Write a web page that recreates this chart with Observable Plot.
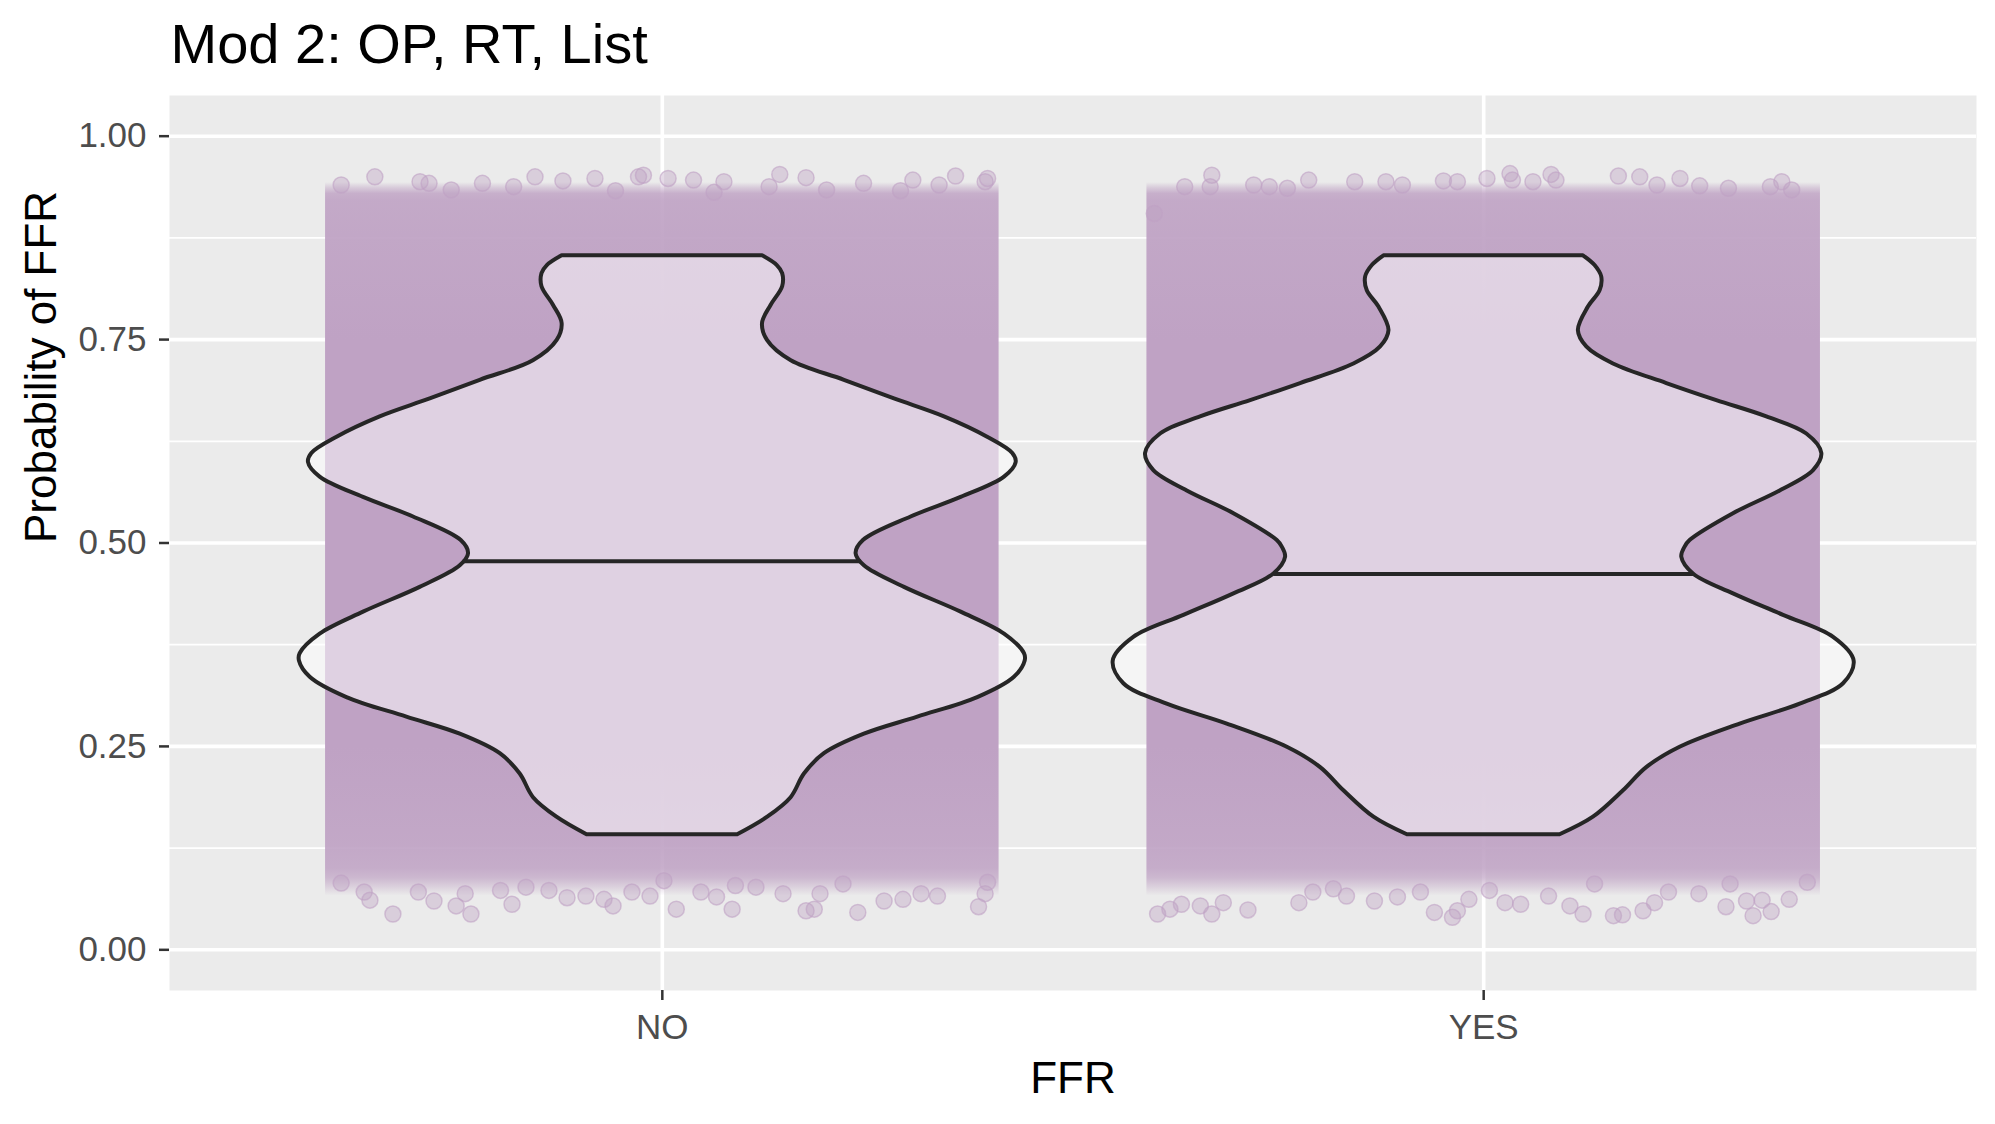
<!DOCTYPE html>
<html>
<head>
<meta charset="utf-8">
<script src="https://cdn.jsdelivr.net/npm/d3@7"></script>
<script src="https://cdn.jsdelivr.net/npm/@observablehq/plot@0.6"></script>
<style>
  body { margin: 0; background: #ffffff; }
  #chart svg { display: block; }
</style>
</head>
<body>
<div id="chart"></div>
<script>
// ---------- data ----------
const title = "Mod 2: OP, RT, List";
const xLabel = "FFR";
const yLabel = "Probability of FFR";
const categories = ["NO", "YES"];
const yTicks = [0, 0.25, 0.5, 0.75, 1];
const yMinor = [0.125, 0.375, 0.625, 0.875];

// medians (horizontal line inside each violin)
const medians = [0.4776, 0.462];

// violin outline: y value and half-width (x units), top to bottom
const violinY_NO = [0.853, 0.841, 0.831, 0.815, 0.792, 0.770, 0.749, 0.724, 0.700, 0.677, 0.655, 0.630, 0.610, 0.599, 0.581, 0.556, 0.532, 0.503, 0.487, 0.472, 0.4455, 0.415, 0.388, 0.364, 0.355, 0.335, 0.310, 0.286, 0.265, 0.241, 0.216, 0.187, 0.163, 0.1414];
const violinHalf_NO = [0.122, 0.140, 0.1465, 0.1465, 0.1324, 0.122, 0.128, 0.157, 0.2217, 0.2826, 0.3435, 0.396, 0.4267, 0.4308, 0.4166, 0.3638, 0.3029, 0.2448, 0.2359, 0.246, 0.2948, 0.3638, 0.4166, 0.4409, 0.4418, 0.4287, 0.384, 0.311, 0.246, 0.1973, 0.173, 0.1568, 0.1283, 0.0917];
const violinY_YES = [0.853, 0.841, 0.827, 0.810, 0.790, 0.761, 0.741, 0.720, 0.696, 0.675, 0.655, 0.634, 0.610, 0.589, 0.564, 0.536, 0.503, 0.495, 0.4825, 0.462, 0.4375, 0.411, 0.384, 0.355, 0.327, 0.302, 0.2775, 0.249, 0.224, 0.1955, 0.163, 0.1414];
const violinHalf_YES = [0.1214, 0.1356, 0.1437, 0.1417, 0.1275, 0.1153, 0.1255, 0.158, 0.2229, 0.2838, 0.3447, 0.3934, 0.4117, 0.4016, 0.3609, 0.3041, 0.2513, 0.2452, 0.2412, 0.2554, 0.3041, 0.365, 0.426, 0.451, 0.4381, 0.3853, 0.3122, 0.2391, 0.1985, 0.1702, 0.1336, 0.0929];

// jittered point cloud: horizontal spread and relative point density by value (top to bottom)
const jitterHalfWidth = 0.41;
const cloudDensityY = [0.943, 0.936, 0.929, 0.92, 0.88, 0.80, 0.75, 0.25, 0.20, 0.13, 0.10, 0.088, 0.078, 0.066];
const cloudDensity  = [0.0, 0.45, 0.82, 0.9, 0.93, 0.97, 1.0, 1.0, 0.97, 0.92, 0.86, 0.7, 0.4, 0.0];

// stray points visible around the edges of each cloud (offset from category, value)
const strayNO_dx = [-0.391,-0.363,-0.356,-0.328,-0.297,-0.278,-0.251,-0.233,-0.240,-0.197,-0.183,-0.166,-0.138,-0.116,-0.093,-0.071,-0.060,-0.037,-0.015,0.002,0.017,0.047,0.066,0.085,0.089,0.114,0.147,0.175,0.185,0.192,0.220,0.238,0.270,0.293,0.315,0.335,0.385,0.393,0.396,
  -0.391,-0.350,-0.295,-0.284,-0.257,-0.219,-0.181,-0.155,-0.121,-0.082,-0.057,-0.029,-0.023,0.007,0.038,0.063,0.075,0.130,0.143,0.175,0.200,0.245,0.290,0.305,0.337,0.357,0.393,0.396];
const strayNO_y = [0.082,0.071,0.061,0.044,0.071,0.060,0.054,0.044,0.069,0.073,0.056,0.077,0.073,0.064,0.066,0.062,0.054,0.071,0.066,0.085,0.050,0.071,0.065,0.050,0.079,0.077,0.069,0.048,0.050,0.069,0.081,0.046,0.060,0.062,0.069,0.066,0.053,0.069,0.083,
  0.940,0.950,0.944,0.942,0.934,0.942,0.938,0.950,0.945,0.948,0.933,0.950,0.952,0.948,0.946,0.931,0.944,0.938,0.953,0.949,0.934,0.942,0.933,0.946,0.940,0.951,0.944,0.948];
const strayYES_dx = [-0.397,-0.382,-0.368,-0.345,-0.331,-0.317,-0.287,-0.225,-0.208,-0.183,-0.167,-0.133,-0.105,-0.077,-0.060,-0.038,-0.032,-0.018,0.007,0.026,0.045,0.079,0.105,0.121,0.135,0.158,0.169,0.194,0.208,0.225,0.262,0.295,0.300,0.320,0.328,0.339,0.350,0.372,0.394,
  -0.401,-0.364,-0.331,-0.333,-0.280,-0.261,-0.239,-0.213,-0.157,-0.119,-0.099,-0.049,-0.032,0.004,0.032,0.035,0.060,0.082,0.088,0.164,0.190,0.211,0.239,0.263,0.298,0.349,0.363,0.375];
const strayYES_y = [0.044,0.050,0.056,0.054,0.044,0.058,0.049,0.058,0.071,0.075,0.066,0.060,0.065,0.071,0.046,0.040,0.048,0.062,0.073,0.058,0.056,0.066,0.054,0.044,0.081,0.042,0.043,0.048,0.058,0.071,0.069,0.053,0.081,0.060,0.042,0.061,0.047,0.062,0.083,
  0.905,0.938,0.952,0.938,0.940,0.938,0.936,0.946,0.944,0.944,0.940,0.945,0.944,0.948,0.954,0.946,0.944,0.953,0.946,0.951,0.950,0.940,0.948,0.939,0.936,0.938,0.944,0.934];

// ---------- derived tables ----------
const pos = (c) => categories.indexOf(c) + 1;
const violins = [
  {cat: "NO", ys: violinY_NO, hs: violinHalf_NO},
  {cat: "YES", ys: violinY_YES, hs: violinHalf_YES}
];
const violinRows = violins.flatMap(v => v.ys.map((y, i) => ({
  cat: v.cat, y, x1: pos(v.cat) - v.hs[i], x2: pos(v.cat) + v.hs[i]
})));
function halfAt(v, y) {
  for (let i = 0; i < v.ys.length - 1; i++) {
    const a = v.ys[i], b = v.ys[i + 1];
    if (y <= a && y >= b) {
      const t = (a - y) / (a - b);
      return v.hs[i] + t * (v.hs[i + 1] - v.hs[i]);
    }
  }
  return 0;
}
const medianRows = violins.map((v, i) => {
  const h = halfAt(v, medians[i]);
  return {y: medians[i], x1: pos(v.cat) - h, x2: pos(v.cat) + h};
});
const cloudTop = cloudDensityY[0];
const cloudBottom = cloudDensityY[cloudDensityY.length - 1];
const cloudRows = categories.map(c => ({
  x1: pos(c) - jitterHalfWidth, x2: pos(c) + jitterHalfWidth, y1: cloudBottom, y2: cloudTop
}));
const strayRows = [
  ...strayNO_dx.map((d, i) => ({x: pos("NO") + d, y: strayNO_y[i]})),
  ...strayYES_dx.map((d, i) => ({x: pos("YES") + d, y: strayYES_y[i]}))
];

// ---------- chart ----------
const pointColor = "#BFA2C4";
const cloudMarker = "#BFA2C5"; // replaced by the density gradient after rendering
const ink = "#262626";
const chart = Plot.plot({
  width: 1995,
  height: 1124,
  marginLeft: 169,
  marginRight: 19,
  marginTop: 95,
  marginBottom: 134,
  style: {fontFamily: "'Liberation Sans', Arial, Helvetica, sans-serif", background: "#ffffff"},
  x: {type: "linear", domain: [0.4, 2.6]},
  y: {type: "linear", domain: [-0.05, 1.05]},
  marks: [
    Plot.frame({fill: "#EBEBEB", stroke: null}),
    Plot.ruleY(yMinor, {stroke: "#ffffff", strokeWidth: 1.8}),
    Plot.ruleY(yTicks, {stroke: "#ffffff", strokeWidth: 3.6}),
    Plot.ruleX(categories.map(pos), {stroke: "#ffffff", strokeWidth: 3.6}),
    // jitter cloud
    Plot.rect(cloudRows, {x1: "x1", x2: "x2", y1: "y1", y2: "y2", fill: cloudMarker}),
    Plot.dot(strayRows, {x: "x", y: "y", r: 8, fill: pointColor, fillOpacity: 0.4, stroke: pointColor, strokeOpacity: 0.6, strokeWidth: 1.5}),
    // violins
    Plot.areaX(violinRows, {y: "y", x1: "x1", x2: "x2", z: "cat", fill: "#ffffff", fillOpacity: 0.5,
      stroke: ink, strokeWidth: 4, strokeLinejoin: "round", curve: "catmull-rom"}),
    Plot.ruleY(medianRows, {y: "y", x1: "x1", x2: "x2", stroke: ink, strokeWidth: 4}),
    // axes
    Plot.axisY(yTicks, {tickFormat: d3.format(".2f"), tickSize: 10, tickPadding: 13, fontSize: 35,
      stroke: "#333333", strokeWidth: 2.5, fill: "#4D4D4D", label: null}),
    Plot.axisX(categories.map(pos), {tickFormat: d => categories[d - 1], tickSize: 10, tickPadding: 14, fontSize: 35,
      stroke: "#333333", strokeWidth: 2.5, fill: "#4D4D4D", label: null}),
    // titles
    Plot.text([title], {frameAnchor: "top-left", textAnchor: "start", lineAnchor: "middle", dx: 1, dy: -50, fontSize: 56, fill: "#000000"}),
    Plot.text([xLabel], {frameAnchor: "bottom", lineAnchor: "middle", dy: 88, fontSize: 44, fill: "#000000"}),
    Plot.text([yLabel], {frameAnchor: "left", lineAnchor: "middle", rotate: -90, dx: -128, fontSize: 44, fill: "#000000"})
  ]
});

// vertical density gradient for the point cloud
const svg = d3.select(chart);
const grad = svg.insert("defs", ":first-child")
  .append("linearGradient")
  .attr("id", "cloudGrad")
  .attr("x1", 0).attr("y1", 0).attr("x2", 0).attr("y2", 1);
cloudDensityY.forEach((v, i) => {
  grad.append("stop")
    .attr("offset", (cloudTop - v) / (cloudTop - cloudBottom))
    .attr("stop-color", pointColor)
    .attr("stop-opacity", cloudDensity[i]);
});
svg.selectAll(`[fill="${cloudMarker}"]`).attr("fill", "url(#cloudGrad)");

document.getElementById("chart").appendChild(chart);
</script>
</body>
</html>
